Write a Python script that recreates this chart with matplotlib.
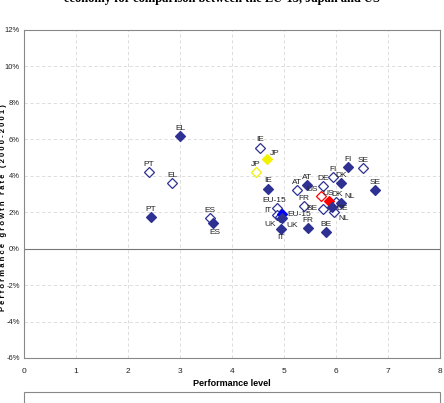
import matplotlib
matplotlib.use("Agg")
import matplotlib.pyplot as plt
from matplotlib.patches import Rectangle
from matplotlib.ticker import FuncFormatter

# ---- data ----
open_names = ["PT", "EL", "ES", "IE", "JP", "EU-15", "IT", "UK", "AT", "FR",
              "DE", "US", "BE", "NL", "FI", "DK", "SE"]
open_x = [2.40, 2.85, 3.58, 4.54, 4.46, 4.87, 4.86, 4.92, 5.25, 5.38,
          5.75, 5.71, 5.75, 5.96, 5.94, 6.00, 6.52]
open_y = [4.2, 3.6, 1.7, 5.55, 4.2, 2.25, 1.85, 1.75, 3.2, 2.35,
          3.45, 2.9, 2.2, 2.0, 3.95, 2.55, 4.4]

filled_names = ["PT", "EL", "ES", "IE", "JP", "EU-15", "UK", "IT", "AT", "FR",
                "BE", "US", "DE", "DK", "NL", "FI", "SE"]
filled_x = [2.44, 3.0, 3.64, 4.69, 4.67, 4.96, 4.97, 4.94, 5.44, 5.46,
            5.80, 5.87, 5.92, 6.10, 6.10, 6.23, 6.75]
filled_y = [1.75, 6.2, 1.4, 3.3, 4.9, 1.9, 1.7, 1.1, 3.5, 1.15,
            0.9, 2.6, 2.3, 3.6, 2.5, 4.5, 3.2]

x_ticks = [0, 1, 2, 3, 4, 5, 6, 7, 8]
y_ticks = [-6, -4, -2, 0, 2, 4, 6, 8, 10, 12]

# ---- styles ----
NAVY = "#2E3192"
special_color = {"JP": "#F2F200", "US": "#FF0000"}
filled_special = {"JP": "#F2F200", "US": "#FF0000", "EU-15": "#0000FF"}

open_offsets = {"IT": (-4, 1, "right", "bottom"), "UK": (-3, -3, "right", "top"),
                "US": (-2, 2, "right", "bottom"), "BE": (-4, 0, "right", "center"),
                "NL": (3, -2, "left", "top"), "DK": (1, 3, "center", "bottom"),
                "EU-15": (-2, 3, "center", "bottom")}
filled_offsets = {"ES": (1, -4, "center", "top"), "IT": (0, -4, "center", "top"),
                  "UK": (3, -3, "left", "top"), "EU-15": (4, 0, "left", "center"),
                  "JP": (2, 2, "left", "bottom"), "DE": (3, -1, "left", "center"),
                  "NL": (2, 2, "left", "bottom"), "US": (-1, 3, "center", "bottom")}

FONT = ["Liberation Sans Narrow", "Liberation Sans", "DejaVu Sans"]
plt.rcParams["font.family"] = FONT

fig = plt.figure(figsize=(4.44, 4.03), dpi=100)
ax = fig.add_axes([24/444, 45/403, 416/444, 328/403])

ax.set_xlim(0, 8)
ax.set_ylim(-6, 12)
ax.set_xticks(x_ticks)
ax.set_yticks(y_ticks)
ax.yaxis.set_major_formatter(FuncFormatter(lambda v, p: f"{int(v)}%"))
ax.tick_params(length=0, labelsize=5.5, colors="#222222", pad=3)
ax.tick_params(axis="x", labelsize=6, pad=7)
for s in ax.spines.values():
    s.set_color("#888888")
    s.set_linewidth(0.8)
ax.grid(True, color="#d8d8d8", linestyle=(0, (4, 3)), linewidth=0.6)
ax.axhline(0, color="#777777", linewidth=0.8, zorder=1)
ax.set_axisbelow(True)

for n, x, y in zip(open_names, open_x, open_y):
    c = special_color.get(n, NAVY)
    ax.plot([x], [y], marker="D", markersize=5, markerfacecolor="white",
            markeredgecolor=c, markeredgewidth=0.9, linestyle="none", zorder=3)
    dx, dy, ha, va = open_offsets.get(n, (0, 3, "center", "bottom"))
    ax.annotate(n, (x, y), xytext=(dx, dy), textcoords="offset points",
                ha=ha, va=va, fontsize=6, color="#222222", zorder=5)

for n, x, y in zip(filled_names, filled_x, filled_y):
    c = filled_special.get(n, NAVY)
    ax.plot([x], [y], marker="D", markersize=5, markerfacecolor=c,
            markeredgecolor=c, markeredgewidth=0.9, linestyle="none", zorder=4)
    dx, dy, ha, va = filled_offsets.get(n, (0, 3, "center", "bottom"))
    ax.annotate(n, (x, y), xytext=(dx, dy), textcoords="offset points",
                ha=ha, va=va, fontsize=6, color="#222222", zorder=5)

ax.set_xlabel("Performance level", fontsize=6.5, fontweight="bold", labelpad=3)
ax.set_ylabel("P e r f o r m a n c e   g r o w t h   r a t e   ( 2 0 0 0 - 2 0 0 1 )",
              fontsize=5.5, fontweight="bold", va="center")
ax.yaxis.set_label_coords(-0.049, 0.46)

fig.text(222/444, 1 - 2/403, "economy for comparison between the EU-15, Japan and US",
         ha="center", va="baseline", fontsize=9, fontweight="bold",
         family=["Liberation Serif", "DejaVu Serif"])

fig.patches.append(Rectangle((24/444, -0.05), 416/444, (403-392)/403 + 0.05,
                             transform=fig.transFigure, fill=False,
                             edgecolor="#888888", linewidth=0.8))

fig.savefig("out.png", dpi=100)
